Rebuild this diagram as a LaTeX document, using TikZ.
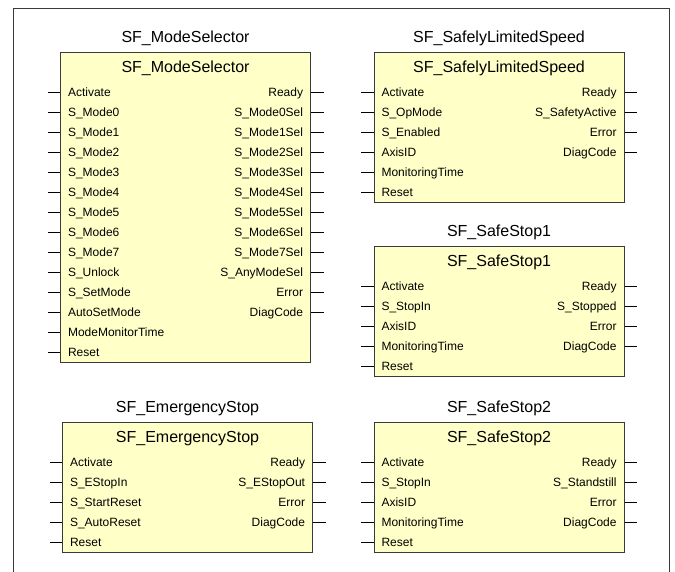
\documentclass[tikz,border=0pt]{standalone}
\usepackage{fontspec}
\setmainfont{Liberation Sans}
\usetikzlibrary{matrix,positioning}

\definecolor{fbyellow}{HTML}{FFFFC8}
\definecolor{fbline}{HTML}{3A3A3A}

\tikzset{
    fb/.style={matrix of nodes, nodes in empty cells, anchor=north west,
        draw=fbline, line width=1.1pt, fill=fbyellow, inner xsep=7.5pt, inner ysep=0pt,
        row sep=0pt, column sep=0pt,
        nodes={anchor=center, font=\fontsize{12}{14}\selectfont, inner xsep=0pt, inner ysep=4pt,
            text height=9.5pt, text depth=2.5pt, text width=117.5pt},
        column 1/.style={nodes={align=left}},
        column 2/.style={nodes={align=right}},
        row 1/.style={nodes={text height=16pt, text depth=6pt}}},
    fbtitle/.style={font=\fontsize{16}{18}\selectfont, inner sep=0pt, text height=11.5pt, text depth=0pt},
    pin/.style={line width=1pt, black},
    frame/.style={line width=1.2pt, draw=fbline}
}

\begin{document}
\begin{tikzpicture}[x=1pt, y=-1pt]
                \useasboundingbox (0,0) rectangle (675,572);
                \draw[frame] (13.5,572) -- (13.5,8.5) -- (669.5,8.5) -- (669.5,572);

                \matrix (ms) [fb] at (60,52)
                {
                                    &                   \\
                    Activate        & Ready             \\
                    S\_Mode0        & S\_Mode0Sel       \\
                    S\_Mode1        & S\_Mode1Sel       \\
                    S\_Mode2        & S\_Mode2Sel       \\
                    S\_Mode3        & S\_Mode3Sel       \\
                    S\_Mode4        & S\_Mode4Sel       \\
                    S\_Mode5        & S\_Mode5Sel       \\
                    S\_Mode6        & S\_Mode6Sel       \\
                    S\_Mode7        & S\_Mode7Sel       \\
                    S\_Unlock       & S\_AnyModeSel     \\
                    S\_SetMode      & Error             \\
                    AutoSetMode     & DiagCode          \\
                    ModeMonitorTime &                   \\
                    Reset           &                   \\
                };
                \node[fbtitle, above=9pt of ms] (ms-title) {SF\_ModeSelector};
                \node[fbtitle, below=9pt of ms.north] (ms-name) {SF\_ModeSelector};
                \foreach \r in {2,...,15} \draw[pin] (ms.west |- ms-\r-1) -- ++(-12.5,0);
                \foreach \r in {2,...,13} \draw[pin] (ms.east |- ms-\r-2) -- ++(12.5,0);

                \matrix (sls) [fb] at (373.5,52)
                {
                                    &                   \\
                    Activate        & Ready             \\
                    S\_OpMode       & S\_SafetyActive   \\
                    S\_Enabled      & Error             \\
                    AxisID          & DiagCode          \\
                    MonitoringTime  &                   \\
                    Reset           &                   \\
                };
                \node[fbtitle, above=9pt of sls] (sls-title) {SF\_SafelyLimitedSpeed};
                \node[fbtitle, below=9pt of sls.north] (sls-name) {SF\_SafelyLimitedSpeed};
                \foreach \r in {2,...,7} \draw[pin] (sls.west |- sls-\r-1) -- ++(-12.5,0);
                \foreach \r in {2,...,5} \draw[pin] (sls.east |- sls-\r-2) -- ++(12.5,0);

                \matrix (ss1) [fb] at (373.5,246)
                {
                                    &                   \\
                    Activate        & Ready             \\
                    S\_StopIn       & S\_Stopped        \\
                    AxisID          & Error             \\
                    MonitoringTime  & DiagCode          \\
                    Reset           &                   \\
                };
                \node[fbtitle, above=9pt of ss1] (ss1-title) {SF\_SafeStop1};
                \node[fbtitle, below=9pt of ss1.north] (ss1-name) {SF\_SafeStop1};
                \foreach \r in {2,...,6} \draw[pin] (ss1.west |- ss1-\r-1) -- ++(-12.5,0);
                \foreach \r in {2,...,5} \draw[pin] (ss1.east |- ss1-\r-2) -- ++(12.5,0);

                \matrix (es) [fb] at (62,422)
                {
                                    &                   \\
                    Activate        & Ready             \\
                    S\_EStopIn      & S\_EStopOut       \\
                    S\_StartReset   & Error             \\
                    S\_AutoReset    & DiagCode          \\
                    Reset           &                   \\
                };
                \node[fbtitle, above=9pt of es] (es-title) {SF\_EmergencyStop};
                \node[fbtitle, below=9pt of es.north] (es-name) {SF\_EmergencyStop};
                \foreach \r in {2,...,6} \draw[pin] (es.west |- es-\r-1) -- ++(-12.5,0);
                \foreach \r in {2,...,5} \draw[pin] (es.east |- es-\r-2) -- ++(12.5,0);

                \matrix (ss2) [fb] at (373.5,422)
                {
                                    &                   \\
                    Activate        & Ready             \\
                    S\_StopIn       & S\_Standstill     \\
                    AxisID          & Error             \\
                    MonitoringTime  & DiagCode          \\
                    Reset           &                   \\
                };
                \node[fbtitle, above=9pt of ss2] (ss2-title) {SF\_SafeStop2};
                \node[fbtitle, below=9pt of ss2.north] (ss2-name) {SF\_SafeStop2};
                \foreach \r in {2,...,6} \draw[pin] (ss2.west |- ss2-\r-1) -- ++(-12.5,0);
                \foreach \r in {2,...,5} \draw[pin] (ss2.east |- ss2-\r-2) -- ++(12.5,0);
            \end{tikzpicture}
\end{document}
